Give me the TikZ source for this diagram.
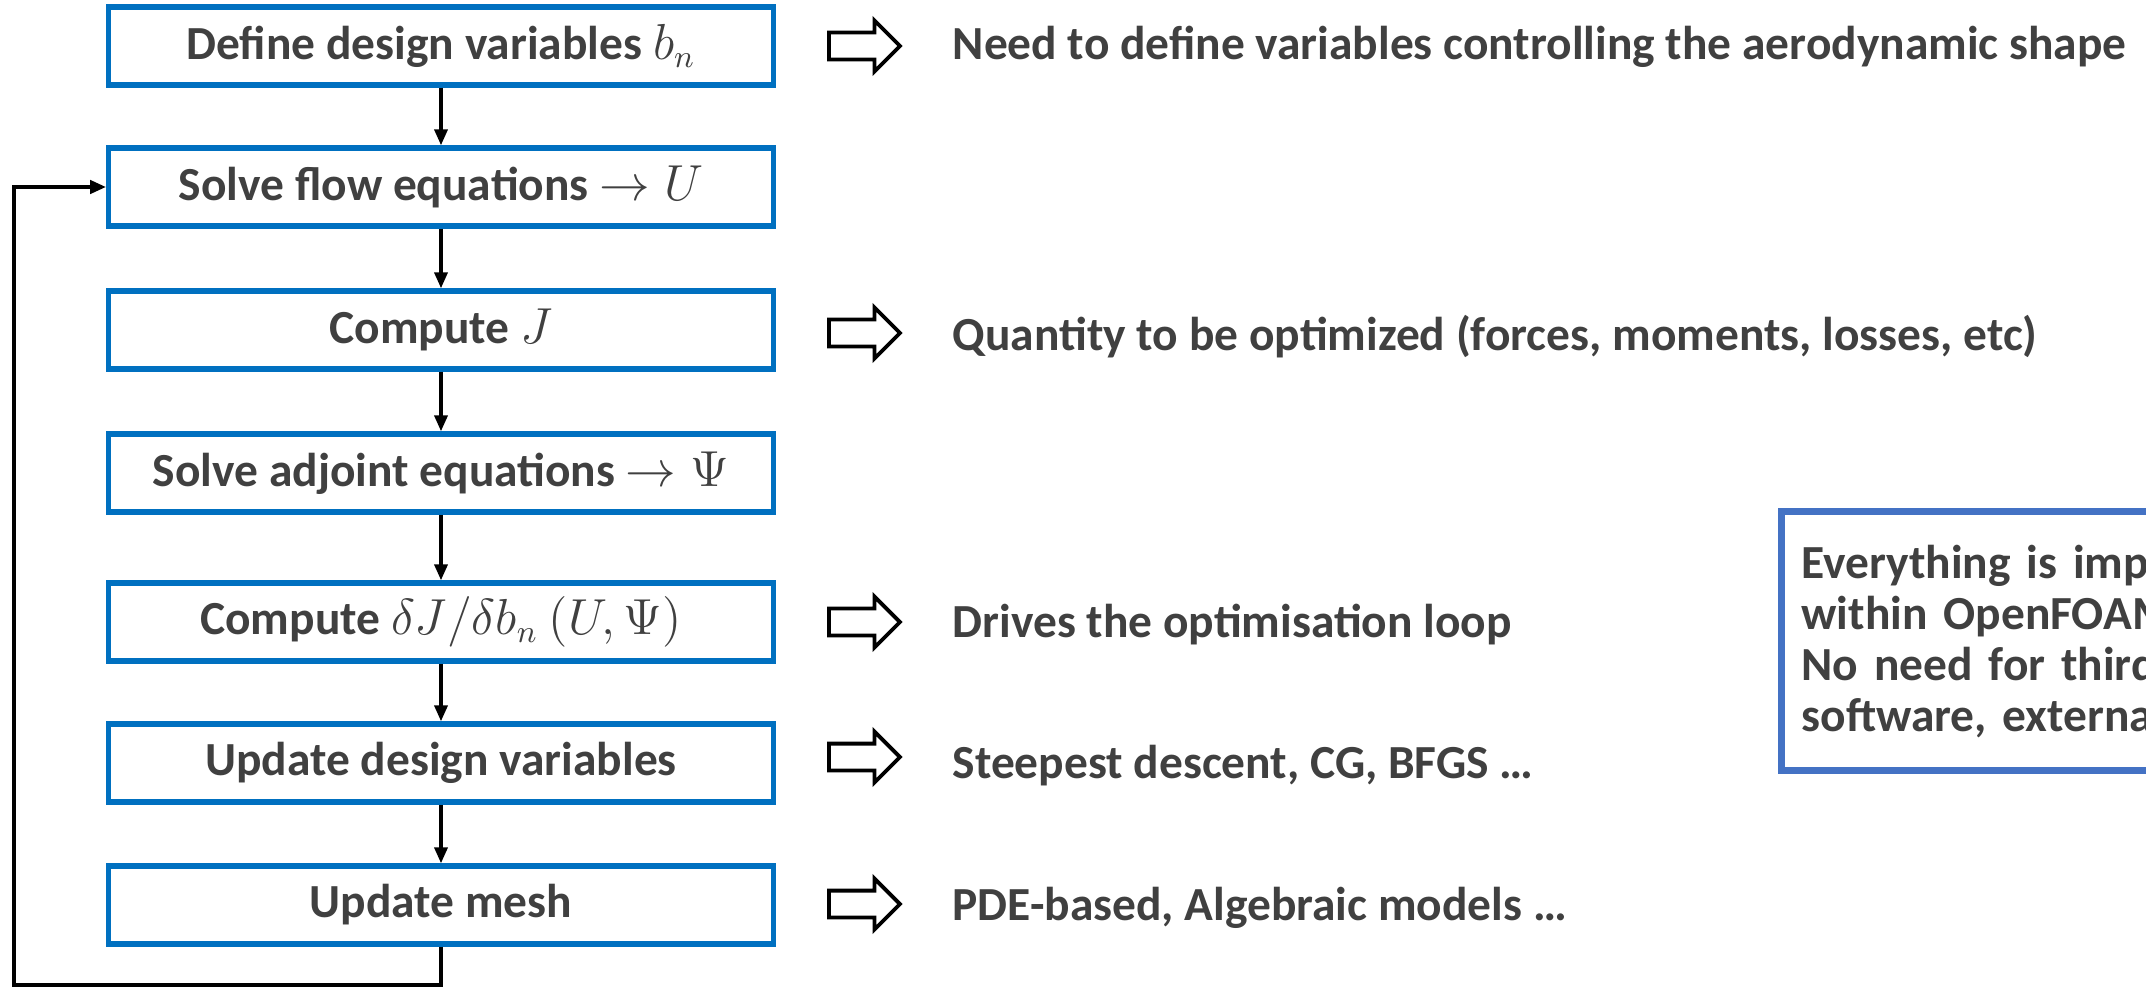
\documentclass[tikz,border=0pt]{standalone}
\usepackage{fontspec}
\setmainfont{Carlito}
\usetikzlibrary{arrows.meta,shapes.arrows}
\definecolor{boxblue}{HTML}{0070C0}
\definecolor{noteblue}{HTML}{4472C4}
\definecolor{txtgray}{HTML}{404040}

\begin{document}
\begin{tikzpicture}[x=0.01cm,y=-0.01cm,
  stage/.style={draw=boxblue,line width=1.5pt,minimum width=6.64cm,minimum height=0.78cm,inner sep=0pt,
    font=\fontsize{13.5}{14.5}\selectfont\bfseries,text=txtgray},
  remark/.style={anchor=base west,inner sep=0pt,font=\fontsize{13.5}{14.5}\selectfont\bfseries,text=txtgray},
  harrow/.style={draw,single arrow,line width=1.1pt,minimum width=0.48cm,minimum height=0.71cm,
    single arrow head extend=0.12cm,inner xsep=0pt,inner ysep=0.115cm,anchor=tail},
  flow/.style={line width=1pt,-{Triangle[length=0.16cm,width=0.13cm]}},
  notebox/.style={draw=noteblue,line width=2pt,anchor=north west,align=left,text width=6cm,
    minimum height=2.59cm,inner xsep=0.2cm,font=\fontsize{13.5}{14.5}\selectfont\bfseries,text=txtgray}]
  \useasboundingbox (0,0) rectangle (2146,991);
  % optimisation loop
  \node[stage] (b1) at (441,46) {Define design variables $b_n$};
  \node[stage] (b2) at (441,187) {Solve flow equations $\rightarrow U$};
  \node[stage] (b3) at (441,330) {Compute $J$};
  \node[stage] (b4) at (441,473) {Solve adjoint equations $\rightarrow \Psi$};
  \node[stage] (b5) at (441,622) {Compute $\delta J/\delta b_n\ (U,\Psi)$};
  \node[stage] (b6) at (441,763) {Update design variables};
  \node[stage] (b7) at (441,905) {Update mesh};
  \draw[flow] (b1) -- (b2);
  \draw[flow] (b2) -- (b3);
  \draw[flow] (b3) -- (b4);
  \draw[flow] (b4) -- (b5);
  \draw[flow] (b5) -- (b6);
  \draw[flow] (b6) -- (b7);
  \coordinate (back) at (14,985);
  \draw[flow,line width=1.3pt] (b7.south) |- (back) |- (b2.west);
  % comments
  \node[harrow] (a1) at (827,46) {};
  \node[harrow] (a3) at (827,333) {};
  \node[harrow] (a5) at (827,622) {};
  \node[harrow] (a6) at (827,757) {};
  \node[harrow] (a7) at (827,904) {};
  \node[remark] (r1) at (952,60) {Need to define variables controlling the aerodynamic shape};
  \node[remark] (r3) at (952,350) {Quantity to be optimized (forces, moments, losses, etc)};
  \node[remark] (r5) at (952,637) {Drives the optimisation loop};
  \node[remark] (r6) at (952,778) {Steepest descent, CG, BFGS …};
  \node[remark] (r7) at (952,920) {PDE-based, Algebraic models …};
  \begin{scope}
    \clip (0,0) rectangle (2146,991);
    \node[notebox] (note) at (1778,508) {Everything is implemented\\within OpenFOAM\\No need for third-party\\software, external libraries};
  \end{scope}
\end{tikzpicture}
\end{document}
